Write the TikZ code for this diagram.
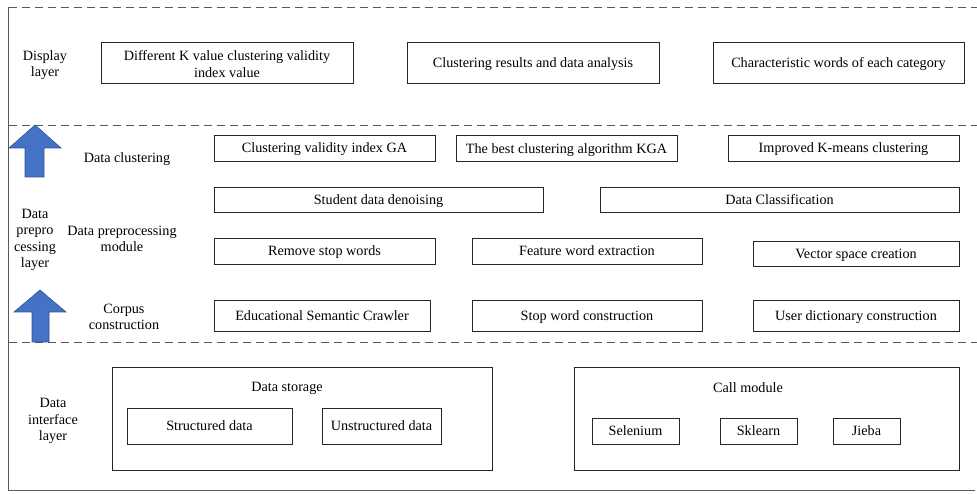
\documentclass[tikz,border=0pt]{standalone}
\usepackage{fontspec}
\setmainfont{Liberation Serif}
\begin{document}
\begin{tikzpicture}[x=1bp,y=-1bp,
  box/.style={draw=black!85, line width=0.8bp, inner sep=0pt},
  onel/.style={text height=11.5bp, text depth=2bp},
  lbl/.style={inner sep=0pt, align=center},
  layerline/.style={draw=black!65, line width=0.9bp},
  dashline/.style={draw=black!65, line width=0.9bp, dash pattern=on 8bp off 5bp},
  font=\fontsize{14.2bp}{16.5bp}\selectfont]
\useasboundingbox (0,0) rectangle (977,494);
\definecolor{arrowfill}{HTML}{4472C4}
\definecolor{arrowline}{HTML}{2F528F}

% frame
\draw[layerline] (8.5,7) -- (8.5,490) -- (975,490);
\draw[dashline] (8.5,7) -- (977,7);
\draw[dashline] (8.5,125) -- (977,125);
\draw[dashline] (8.5,342) -- (977,342);

% arrows
\draw[fill=arrowfill, draw=arrowline, line width=0.6bp]
  (35,125) -- (61,148) -- (44,148) -- (44,177) -- (25,177) -- (25,148) -- (9,148) -- cycle;
\draw[fill=arrowfill, draw=arrowline, line width=0.6bp]
  (40,290) -- (66,312) -- (49,312) -- (49,342) -- (32,342) -- (32,312) -- (14,312) -- cycle;

% left labels
\node[lbl] (ldisp) at (45,65) {Display\\layer};
\node[inner sep=0pt, onel] (lclus) at (127,158) {Data clustering};
\node[lbl] (lprep) at (35,240) {Data\\prepro\\cessing\\layer};
\node[lbl] (lmod) at (122,239) {Data preprocessing\\module};
\node[lbl] (lcorp) at (124,317) {Corpus\\construction};
\node[lbl] (lintf) at (53,421) {Data\\interface\\layer};

% display layer
\node[box, minimum width=252bp, minimum height=41bp] (d1) at (227,62.5) {};
\node[lbl] (d1t) at (227,64) {Different K value clustering validity\\index value};
\node[box, onel, minimum width=252bp, minimum height=41bp] (d2) at (533,62.5) {Clustering results and data analysis};
\node[box, onel, minimum width=251bp, minimum height=41bp] (d3) at (838.5,62.5) {Characteristic words of each category};

% data clustering
\node[box, onel, minimum width=221bp, minimum height=26bp] (c1) at (324.5,148) {Clustering validity index GA};
\node[box, onel, minimum width=221bp, minimum height=26bp] (c2) at (566.5,148.5) {The best clustering algorithm KGA};
\node[box, onel, minimum width=231bp, minimum height=26bp] (c3) at (843.5,148) {Improved K-means clustering};

% preprocessing
\node[box, onel, minimum width=329bp, minimum height=25bp] (p1) at (378.5,199.5) {Student data denoising};
\node[box, onel, minimum width=359bp, minimum height=25bp] (p2) at (779.5,199.5) {Data Classification};
\node[box, onel, minimum width=221bp, minimum height=26bp] (r1) at (324.5,251) {Remove stop words};
\node[box, onel, minimum width=230bp, minimum height=26bp] (r2) at (587,251) {Feature word extraction};
\node[box, onel, minimum width=206bp, minimum height=25bp] (r3) at (856,253.5) {Vector space creation};

% corpus
\node[box, onel, minimum width=216bp, minimum height=31bp] (s1) at (322,315.5) {Educational Semantic Crawler};
\node[box, onel, minimum width=230bp, minimum height=31bp] (s2) at (587,315.5) {Stop word construction};
\node[box, onel, minimum width=206bp, minimum height=31bp] (s3) at (856,315.5) {User dictionary construction};

% data interface
\node[box, minimum width=380bp, minimum height=103bp] (store) at (302,418.5) {};
\node[inner sep=0pt, onel] (storel) at (287,387) {Data storage};
\node[box, onel, minimum width=165bp, minimum height=36bp] (sd) at (209.5,426) {Structured data};
\node[box, onel, minimum width=119bp, minimum height=36bp] (ud) at (381.5,426) {Unstructured data};

\node[box, minimum width=385bp, minimum height=103bp] (call) at (766.5,418.5) {};
\node[inner sep=0pt, onel] (calll) at (748,388) {Call module};
\node[box, onel, minimum width=87bp, minimum height=26bp] (sel) at (635.5,431) {Selenium};
\node[box, onel, minimum width=77bp, minimum height=26bp] (skl) at (758.5,431) {Sklearn};
\node[box, onel, minimum width=67bp, minimum height=26bp] (jie) at (866.5,431) {Jieba};
\end{tikzpicture}
\end{document}
